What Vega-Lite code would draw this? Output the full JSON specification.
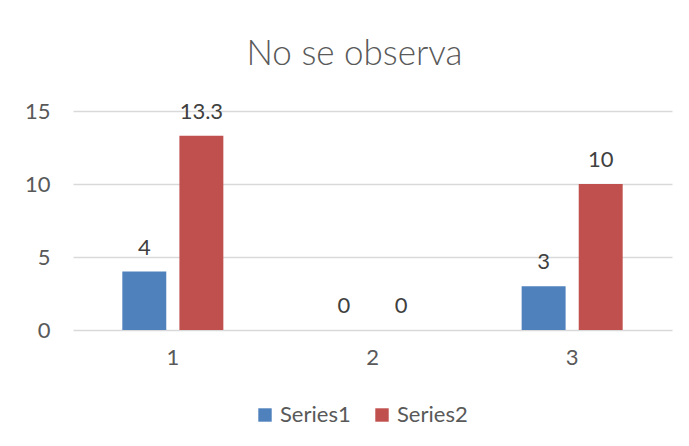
{
  "$schema": "https://vega.github.io/schema/vega-lite/v6.json",
  "width": 599,
  "height": 219,
  "autosize": {"type": "none"},
  "padding": {"left": 73, "top": 111, "right": 17, "bottom": 116},
  "background": "white",
  "config": {
    "font": "Lato",
    "view": {"stroke": null},
    "axis": {"labelFont": "Lato", "labelColor": "#595959", "labelFontSize": 22}
  },
  "title": {
    "text": "No se observa",
    "font": "Lato",
    "fontSize": 35,
    "fontWeight": 300,
    "color": "#595959",
    "anchor": "middle",
    "offset": 28,
    "dx": -18
  },
  "data": {
    "values": [
      {"category": "1", "series": "Series1", "value": 4},
      {"category": "1", "series": "Series2", "value": 13.3},
      {"category": "2", "series": "Series1", "value": 0},
      {"category": "2", "series": "Series2", "value": 0},
      {"category": "3", "series": "Series1", "value": 3},
      {"category": "3", "series": "Series2", "value": 10}
    ]
  },
  "encoding": {
    "x": {
      "field": "category",
      "type": "nominal",
      "title": null,
      "scale": {"paddingInner": 0.494, "paddingOuter": 0.247},
      "axis": {"labelAngle": 0, "ticks": false, "domain": false, "labelPadding": 17, "grid": false}
    },
    "xOffset": {
      "field": "series",
      "type": "nominal",
      "scale": {"paddingInner": 0.23, "paddingOuter": 0}
    },
    "y": {
      "field": "value",
      "type": "quantitative",
      "title": null,
      "scale": {"domain": [0, 15], "nice": false},
      "axis": {"values": [0, 5, 10, 15], "ticks": false, "domain": false, "labelPadding": 23, "gridColor": "#D9D9D9", "gridWidth": 1.3}
    }
  },
  "layer": [
    {
      "mark": {"type": "bar"},
      "encoding": {
        "color": {
          "field": "series",
          "type": "nominal",
          "scale": {"domain": ["Series1", "Series2"], "range": ["#4F81BD", "#C0504D"]},
          "legend": {
            "title": null,
            "orient": "none",
            "direction": "horizontal",
            "legendX": 181,
            "legendY": 293,
            "symbolType": "square",
            "symbolSize": 180,
            "symbolStrokeWidth": 0,
            "labelFontSize": 22,
            "labelColor": "#595959",
            "labelFont": "Lato",
            "columnPadding": 20,
            "labelOffset": 4
          }
        }
      }
    },
    {
      "mark": {"type": "text", "baseline": "alphabetic", "dy": -17, "fontSize": 22, "color": "#404040", "font": "Lato"},
      "encoding": {
        "text": {"field": "value", "type": "quantitative"}
      }
    }
  ]
}
